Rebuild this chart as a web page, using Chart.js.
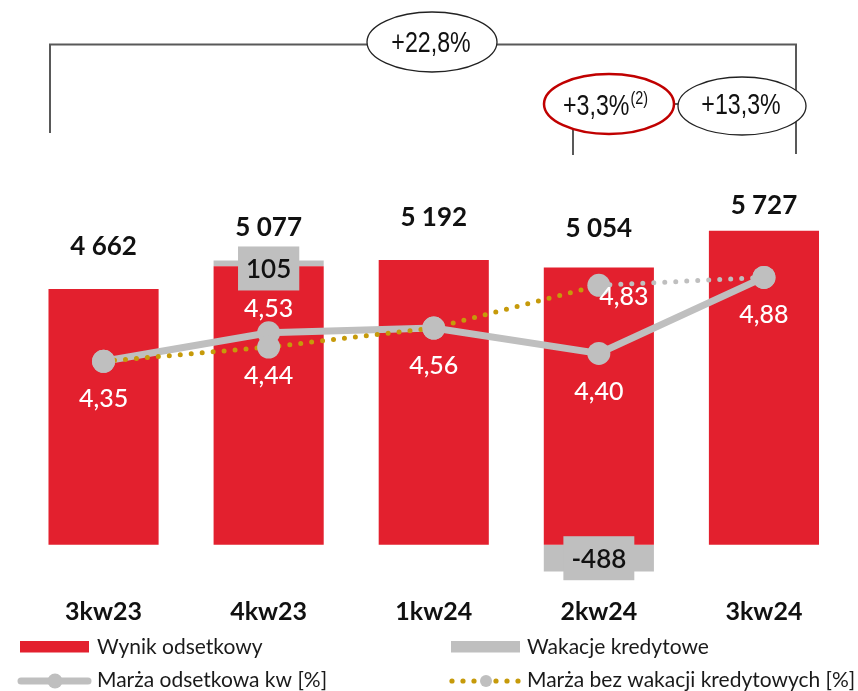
<!DOCTYPE html>
<html>
<head>
<meta charset="utf-8">
<script src="https://cdn.jsdelivr.net/npm/chart.js@4.4.1/dist/chart.umd.min.js"></script>
<style>
  body { margin: 0; background: #fff; }
  #wrap { width: 858px; height: 691px; }
</style>
</head>
<body>
<div id="wrap"><canvas id="nimChart" width="858" height="691"></canvas></div>
<script>
// dane
const quarters = ['3kw23', '4kw23', '1kw24', '2kw24', '3kw24'];
const netInterest = [4662, 5077, 5192, 5054, 5727];      // Wynik odsetkowy
const creditHolidays = [0, 105, 0, -488, 0];              // Wakacje kredytowe
const marginQ = [4.35, 4.53, 4.56, 4.40, 4.88];           // Marża odsetkowa kw [%]
const marginExHolidays = [4.35, 4.44, 4.56, 4.83, 4.88];  // Marża bez wakacji kredytowych [%]
const growthLabels = ['+22,8%', '+3,3%', '+13,3%'];

const RED = '#E3202E';
const GREY = '#BFBFBF';
const GOLD = '#C69A0A';
const FONT = 'Lato, "Noto Sans", sans-serif';
const NARROW = '"Liberation Sans", sans-serif';

function fmtThousands(v) {
    return String(v).replace(/\B(?=(\d{3})+(?!\d))/g, ' ');
}
function fmtPct(v) {
    return v.toFixed(2).replace('.', ',');
}

// labels + brackets + legend
const overlayPlugin = {
    id: 'overlay',
    afterDatasetsDraw(chart) {
        const ctx = chart.ctx;
        const redMeta = chart.getDatasetMeta(2);
        const greyMeta = chart.getDatasetMeta(3);
        const solidMeta = chart.getDatasetMeta(1);
        const dotMeta = chart.getDatasetMeta(0);

        ctx.save();
        // values above bars
        const barLabelLift = [43, 39, 42, 39, 25];
        ctx.font = 'bold 26px ' + FONT;
        ctx.fillStyle = '#111';
        ctx.textAlign = 'center';
        ctx.textBaseline = 'middle';
        redMeta.data.forEach((bar, i) => {
            ctx.fillText(fmtThousands(netInterest[i]), bar.x, bar.y - barLabelLift[i]);
        });

        // grey boxes for credit holidays
        greyMeta.data.forEach((bar, i) => {
            const v = creditHolidays[i];
            if (!v) return;
            const txt = fmtThousands(v);
            ctx.font = '600 26px ' + FONT;
            const w = ctx.measureText(txt).width + 16;
            const mid = (bar.y + bar.base) / 2 + (v > 0 ? 5 : 0);
            ctx.fillStyle = GREY;
            ctx.fillRect(bar.x - w / 2, mid - 22, w, 44);
            ctx.fillStyle = '#111';
            ctx.fillText(txt, bar.x, mid + 1);
        });

        // margin labels
        const solidOff = [[0, 38], [0, -24], [0, 38], [0, 39], [0, 38]];
        const dotOff = [null, [0, 29], null, [25, 12], null];
        ctx.font = '500 25px ' + FONT;
        ctx.fillStyle = '#fff';
        solidMeta.data.forEach((pt, i) => {
            ctx.fillText(fmtPct(marginQ[i]), pt.x + solidOff[i][0], pt.y + solidOff[i][1]);
        });
        dotMeta.data.forEach((pt, i) => {
            if (!dotOff[i]) return;
            ctx.fillText(fmtPct(marginExHolidays[i]), pt.x + dotOff[i][0], pt.y + dotOff[i][1]);
        });
        ctx.restore();
    },
    afterDraw(chart) {
        const ctx = chart.ctx;
        ctx.save();
        // brackets
        ctx.strokeStyle = '#595959';
        ctx.lineWidth = 2;
        ctx.beginPath();
        ctx.moveTo(50, 133); ctx.lineTo(50, 44.5); ctx.lineTo(796, 44.5); ctx.lineTo(796, 154);
        ctx.moveTo(573, 155); ctx.lineTo(573, 104); ctx.lineTo(796, 104);
        ctx.stroke();

        function bubble(cx, cy, rx, ry, color, lw) {
            ctx.beginPath();
            ctx.ellipse(cx, cy, rx, ry, 0, 0, Math.PI * 2);
            ctx.fillStyle = '#fff';
            ctx.fill();
            ctx.strokeStyle = color;
            ctx.lineWidth = lw;
            ctx.stroke();
        }
        bubble(432, 42, 65, 30, '#222', 1.3);
        bubble(609, 104, 65, 30, '#C00000', 2.5);
        bubble(742, 106, 64, 29, '#222', 1.3);

        // narrow look: squeeze the text horizontally
        function narrowText(txt, x, y, size, align) {
            ctx.save();
            ctx.translate(x, y);
            ctx.scale(0.8, 1);
            ctx.font = size + 'px ' + NARROW;
            ctx.textAlign = align;
            ctx.fillText(txt, 0, 0);
            const w = ctx.measureText(txt).width * 0.8;
            ctx.restore();
            return w;
        }
        ctx.fillStyle = '#111';
        ctx.textBaseline = 'middle';
        narrowText(growthLabels[0], 431, 44, 29, 'center');
        narrowText(growthLabels[2], 741, 106, 29, 'center');
        const w = narrowText(growthLabels[1], 563, 107, 29, 'left');
        narrowText('(2)', 563 + w + 1, 99, 18, 'left');

        // legend
        ctx.font = '21px ' + FONT;
        ctx.textAlign = 'left';
        ctx.textBaseline = 'alphabetic';
        ctx.fillStyle = RED;
        ctx.fillRect(20, 641, 69, 11.5);
        ctx.fillStyle = GREY;
        ctx.fillRect(451, 641, 69, 11.5);

        ctx.strokeStyle = GREY;
        ctx.lineWidth = 7;
        ctx.lineCap = 'round';
        ctx.beginPath();
        ctx.moveTo(21, 681); ctx.lineTo(88, 681);
        ctx.stroke();
        ctx.fillStyle = GREY;
        ctx.beginPath(); ctx.arc(55, 681, 7.5, 0, Math.PI * 2); ctx.fill();

        ctx.fillStyle = GOLD;
        for (let x = 452; x <= 520; x += 11) {
            ctx.beginPath(); ctx.arc(x, 681, 2.6, 0, Math.PI * 2); ctx.fill();
        }
        ctx.fillStyle = '#fff';
        ctx.beginPath(); ctx.arc(486, 681, 7, 0, Math.PI * 2); ctx.fill();
        ctx.fillStyle = GREY;
        ctx.beginPath(); ctx.arc(486, 681, 6, 0, Math.PI * 2); ctx.fill();

        ctx.fillStyle = '#1a1a1a';
        ctx.fillText('Wynik odsetkowy', 97, 654);
        ctx.fillText('Wakacje kredytowe', 527, 654);
        ctx.fillText('Marża odsetkowa kw [%]', 97, 687);
        ctx.fillText('Marża bez wakacji kredytowych [%]', 527, 687);
        ctx.restore();
    }
};

const ctx = document.getElementById('nimChart').getContext('2d');
const nimChart = new Chart(ctx, {
    type: 'bar',
    data: {
        labels: quarters,
        datasets: [
            {
                type: 'line',
                label: 'Marża bez wakacji kredytowych [%]',
                data: marginExHolidays,
                yAxisID: 'y2',
                order: 1,
                borderColor: GOLD,
                borderWidth: 5,
                borderDash: [0, 11],
                borderCapStyle: 'round',
                segment: { borderColor: c => c.p0DataIndex === 3 ? GREY : GOLD },
                pointRadius: 11.5,
                pointBackgroundColor: GREY,
                pointBorderWidth: 0
            },
            {
                type: 'line',
                label: 'Marża odsetkowa kw [%]',
                data: marginQ,
                yAxisID: 'y2',
                order: 2,
                borderColor: GREY,
                borderWidth: 7,
                pointRadius: 11.5,
                pointBackgroundColor: GREY,
                pointBorderWidth: 0
            },
            {
                label: 'Wynik odsetkowy',
                data: netInterest,
                backgroundColor: RED,
                stack: 's',
                order: 3,
                barPercentage: 0.667,
                categoryPercentage: 1
            },
            {
                label: 'Wakacje kredytowe',
                data: creditHolidays,
                backgroundColor: GREY,
                stack: 's',
                order: 3,
                barPercentage: 0.667,
                categoryPercentage: 1
            }
        ]
    },
    options: {
        responsive: false,
        animation: false,
        devicePixelRatio: 1,
        layout: { padding: { left: 21, right: 4, top: 21, bottom: 42 } },
        plugins: { legend: { display: false }, tooltip: { enabled: false } },
        scales: {
            x: {
                stacked: true,
                grid: { display: false, drawTicks: false },
                border: { display: false },
                ticks: { padding: 22, color: '#111', font: { family: FONT, size: 25, weight: 'bold' } }
            },
            y: { stacked: true, display: false, min: -550, max: 9550 },
            y2: { display: false, min: 3, max: 6.5 }
        }
    },
    plugins: [overlayPlugin]
});
</script>
</body>
</html>
